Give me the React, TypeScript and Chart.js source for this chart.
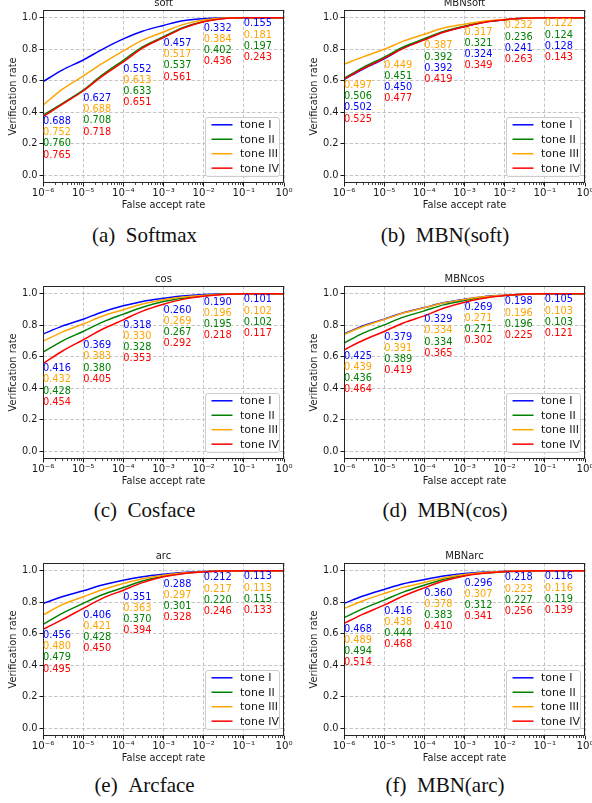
import React, { useEffect, useRef } from "react";
import { Chart, registerables } from "chart.js";

Chart.register(...registerables);

// ---------- data ----------
const FAR = [1e-6, 3e-6, 1e-5, 3e-5, 1e-4, 3e-4, 1e-3, 3e-3, 1e-2, 3e-2, 1e-1, 1];
const X_TICKS = [1e-6, 1e-5, 1e-4, 1e-3, 1e-2, 1e-1, 1];
const Y_TICKS = [0, 0.2, 0.4, 0.6, 0.8, 1.0];
const LABEL_FAR = [1e-6, 1e-5, 1e-4, 1e-3, 1e-2, 1e-1];
const TONES = ["tone I", "tone II", "tone III", "tone IV"];

// (a) soft
const softI = [0.594, 0.668, 0.732, 0.8, 0.866, 0.915, 0.952, 0.982, 0.995, 0.999, 1.0, 1.0];
const softII = [0.38, 0.455, 0.54, 0.637, 0.73, 0.815, 0.88, 0.937, 0.977, 0.996, 1.0, 1.0];
const softIII = [0.445, 0.545, 0.63, 0.71, 0.79, 0.858, 0.91, 0.957, 0.987, 0.998, 1.0, 1.0];
const softIV = [0.372, 0.45, 0.535, 0.63, 0.72, 0.808, 0.874, 0.933, 0.975, 0.995, 1.0, 1.0];
const softNumI = [0.688, 0.627, 0.552, 0.457, 0.332, 0.155];
const softNumII = [0.76, 0.708, 0.633, 0.537, 0.402, 0.197];
const softNumIII = [0.752, 0.688, 0.613, 0.517, 0.384, 0.181];
const softNumIV = [0.765, 0.718, 0.651, 0.561, 0.436, 0.243];
const softOrder = [0, 2, 1, 3];
const softLabelY = [0.34, 0.486, 0.675, 0.836, 0.934, 0.962];

// (b) MBNsoft
const mbnsoftI = [0.608, 0.675, 0.74, 0.808, 0.862, 0.91, 0.945, 0.972, 0.988, 0.997, 1.0, 1.0];
const mbnsoftII = [0.615, 0.685, 0.75, 0.815, 0.867, 0.913, 0.947, 0.973, 0.988, 0.997, 1.0, 1.0];
const mbnsoftIII = [0.705, 0.752, 0.8, 0.852, 0.896, 0.935, 0.96, 0.978, 0.99, 0.998, 1.0, 1.0];
const mbnsoftIV = [0.61, 0.677, 0.742, 0.806, 0.86, 0.908, 0.944, 0.971, 0.988, 0.997, 1.0, 1.0];
const mbnsoftNumI = [0.502, 0.45, 0.392, 0.324, 0.241, 0.128];
const mbnsoftNumII = [0.506, 0.451, 0.392, 0.321, 0.236, 0.124];
const mbnsoftNumIII = [0.497, 0.449, 0.387, 0.317, 0.232, 0.122];
const mbnsoftNumIV = [0.525, 0.477, 0.419, 0.349, 0.263, 0.143];
const mbnsoftOrder = [2, 1, 0, 3];
const mbnsoftLabelY = [0.569, 0.699, 0.822, 0.909, 0.949, 0.962];

// (c) cos
const cosI = [0.744, 0.795, 0.839, 0.885, 0.924, 0.952, 0.972, 0.987, 0.996, 0.999, 1.0, 1.0];
const cosII = [0.63, 0.7, 0.761, 0.82, 0.871, 0.915, 0.951, 0.972, 0.987, 0.997, 1.0, 1.0];
const cosIII = [0.698, 0.757, 0.808, 0.858, 0.899, 0.935, 0.962, 0.98, 0.991, 0.998, 1.0, 1.0];
const cosIV = [0.556, 0.635, 0.708, 0.775, 0.835, 0.89, 0.934, 0.965, 0.985, 0.996, 1.0, 1.0];
const cosNumI = [0.416, 0.369, 0.318, 0.26, 0.19, 0.101];
const cosNumII = [0.428, 0.38, 0.328, 0.267, 0.195, 0.102];
const cosNumIII = [0.432, 0.383, 0.33, 0.269, 0.196, 0.102];
const cosNumIV = [0.454, 0.405, 0.353, 0.292, 0.218, 0.117];
const cosOrder = [0, 2, 1, 3];
const cosLabelY = [0.524, 0.67, 0.799, 0.894, 0.945, 0.962];

// (d) MBNcos
const mbncosI = [0.745, 0.797, 0.839, 0.88, 0.913, 0.943, 0.966, 0.982, 0.991, 0.998, 1.0, 1.0];
const mbncosII = [0.687, 0.75, 0.803, 0.852, 0.892, 0.93, 0.958, 0.978, 0.99, 0.998, 1.0, 1.0];
const mbncosIII = [0.742, 0.792, 0.837, 0.878, 0.912, 0.942, 0.965, 0.981, 0.991, 0.998, 1.0, 1.0];
const mbncosIV = [0.643, 0.705, 0.761, 0.815, 0.86, 0.908, 0.947, 0.972, 0.989, 0.998, 1.0, 1.0];
const mbncosNumI = [0.425, 0.379, 0.329, 0.269, 0.198, 0.105];
const mbncosNumII = [0.436, 0.389, 0.334, 0.271, 0.196, 0.103];
const mbncosNumIII = [0.439, 0.391, 0.334, 0.271, 0.196, 0.103];
const mbncosNumIV = [0.464, 0.419, 0.365, 0.302, 0.225, 0.121];
const mbncosOrder = [0, 2, 1, 3];
const mbncosLabelY = [0.603, 0.725, 0.835, 0.913, 0.949, 0.962];

// (e) arc
const arcI = [0.793, 0.835, 0.873, 0.91, 0.941, 0.963, 0.979, 0.99, 0.996, 0.999, 1.0, 1.0];
const arcII = [0.66, 0.73, 0.793, 0.848, 0.894, 0.935, 0.966, 0.983, 0.993, 0.999, 1.0, 1.0];
const arcIII = [0.719, 0.785, 0.835, 0.88, 0.92, 0.95, 0.972, 0.986, 0.994, 0.999, 1.0, 1.0];
const arcIV = [0.628, 0.69, 0.761, 0.825, 0.877, 0.925, 0.962, 0.982, 0.993, 0.999, 1.0, 1.0];
const arcNumI = [0.456, 0.406, 0.351, 0.288, 0.212, 0.113];
const arcNumII = [0.479, 0.428, 0.37, 0.301, 0.22, 0.115];
const arcNumIII = [0.48, 0.421, 0.363, 0.297, 0.217, 0.113];
const arcNumIV = [0.495, 0.45, 0.394, 0.328, 0.246, 0.133];
const arcOrder = [0, 2, 1, 3];
const arcLabelY = [0.588, 0.717, 0.833, 0.915, 0.955, 0.962];

// (f) MBNarc
const mbnarcI = [0.793, 0.84, 0.882, 0.918, 0.945, 0.967, 0.983, 0.992, 0.997, 1.0, 1.0, 1.0];
const mbnarcII = [0.702, 0.76, 0.814, 0.865, 0.909, 0.945, 0.972, 0.986, 0.995, 0.999, 1.0, 1.0];
const mbnarcIII = [0.761, 0.81, 0.856, 0.895, 0.926, 0.955, 0.977, 0.989, 0.996, 1.0, 1.0, 1.0];
const mbnarcIV = [0.666, 0.725, 0.782, 0.84, 0.892, 0.935, 0.968, 0.985, 0.995, 0.999, 1.0, 1.0];
const mbnarcNumI = [0.468, 0.416, 0.36, 0.296, 0.218, 0.116];
const mbnarcNumII = [0.494, 0.444, 0.383, 0.312, 0.227, 0.119];
const mbnarcNumIII = [0.489, 0.438, 0.378, 0.307, 0.223, 0.116];
const mbnarcNumIV = [0.514, 0.468, 0.41, 0.341, 0.256, 0.139];
const mbnarcOrder = [0, 2, 1, 3];
const mbnarcLabelY = [0.628, 0.744, 0.856, 0.923, 0.955, 0.962];

// ---------- styles ----------
const COLORS = ["#0000ff", "#008000", "#ffa500", "#ff0000"];
const FONT = "'DejaVu Sans', sans-serif";
const TXT = "#1a1a1a";
const LABEL_STEP = 0.0707;
const CW = 295;
const CH = 219;

type PanelDef = {
  title: string;
  curves: number[][];
  nums: number[][];
  order: number[];
  labelY: number[];
  left: number;
  top: number;
  caption: string;
  capX: number;
  capTop: number;
};

const PANELS: PanelDef[] = [
  { title: "soft", curves: [softI, softII, softIII, softIV], nums: [softNumI, softNumII, softNumIII, softNumIV], order: softOrder, labelY: softLabelY, left: 1, top: -6, caption: "(a)\u2002Softmax", capX: 144.5, capTop: 225 },
  { title: "MBNsoft", curves: [mbnsoftI, mbnsoftII, mbnsoftIII, mbnsoftIV], nums: [mbnsoftNumI, mbnsoftNumII, mbnsoftNumIII, mbnsoftNumIV], order: mbnsoftOrder, labelY: mbnsoftLabelY, left: 302, top: -6, caption: "(b)\u2002MBN(soft)", capX: 445, capTop: 225 },
  { title: "cos", curves: [cosI, cosII, cosIII, cosIV], nums: [cosNumI, cosNumII, cosNumIII, cosNumIV], order: cosOrder, labelY: cosLabelY, left: 1, top: 270, caption: "(c)\u2002Cosface", capX: 144.5, capTop: 500 },
  { title: "MBNcos", curves: [mbncosI, mbncosII, mbncosIII, mbncosIV], nums: [mbncosNumI, mbncosNumII, mbncosNumIII, mbncosNumIV], order: mbncosOrder, labelY: mbncosLabelY, left: 302, top: 270, caption: "(d)\u2002MBN(cos)", capX: 445, capTop: 500 },
  { title: "arc", curves: [arcI, arcII, arcIII, arcIV], nums: [arcNumI, arcNumII, arcNumIII, arcNumIV], order: arcOrder, labelY: arcLabelY, left: 1, top: 547, caption: "(e)\u2002Arcface", capX: 144.5, capTop: 775 },
  { title: "MBNarc", curves: [mbnarcI, mbnarcII, mbnarcIII, mbnarcIV], nums: [mbnarcNumI, mbnarcNumII, mbnarcNumIII, mbnarcNumIV], order: mbnarcOrder, labelY: mbnarcLabelY, left: 302, top: 547, caption: "(f)\u2002MBN(arc)", capX: 445, capTop: 775 },
];

const SUP: Record<string, string> = {
  "-": "\u207B", "0": "\u2070", "1": "\u00B9", "2": "\u00B2", "3": "\u00B3",
  "4": "\u2074", "5": "\u2075", "6": "\u2076", "7": "\u2077", "8": "\u2078", "9": "\u2079",
};
const powLabel = (v: number) =>
  "10" + String(Math.round(Math.log10(v))).split("").map((c) => SUP[c] || c).join("");

function makeDecor(p: PanelDef) {
  return {
    id: "decor",
    afterDraw(chart: any) {
      const { ctx, chartArea: a, scales } = chart;
      const xs = scales.x;
      const ys = scales.y;
      ctx.save();
      // minor ticks
      ctx.strokeStyle = TXT;
      ctx.lineWidth = 0.8;
      ctx.beginPath();
      for (let k = -6; k < 0; k++) {
        for (let m = 2; m <= 9; m++) {
          const px = Math.round(xs.getPixelForValue(m * Math.pow(10, k))) + 0.5;
          ctx.moveTo(px, a.bottom);
          ctx.lineTo(px, a.bottom + 2);
        }
      }
      ctx.stroke();
      // frame
      ctx.strokeStyle = "#262626";
      ctx.lineWidth = 1;
      ctx.strokeRect(a.left + 0.5, a.top + 0.5, a.right - a.left - 1, a.bottom - a.top - 1);
      // value annotations
      ctx.font = `9.8px ${FONT}`;
      ctx.textAlign = "left";
      ctx.textBaseline = "middle";
      LABEL_FAR.forEach((fx, j) => {
        const px = xs.getPixelForValue(fx);
        p.order.forEach((t, r) => {
          const py = ys.getPixelForValue(p.labelY[j] - r * LABEL_STEP);
          ctx.fillStyle = COLORS[t];
          ctx.fillText(p.nums[t][j].toFixed(3), px, py);
        });
      });
      // legend
      const bw = 74;
      const bh = 59;
      const bx = a.right - 5 - bw;
      const by = a.bottom - 7 - bh;
      ctx.beginPath();
      if (ctx.roundRect) ctx.roundRect(bx + 0.5, by + 0.5, bw, bh, 2.5);
      else ctx.rect(bx + 0.5, by + 0.5, bw, bh);
      ctx.fillStyle = "rgba(255,255,255,0.8)";
      ctx.fill();
      ctx.strokeStyle = "#cccccc";
      ctx.lineWidth = 1;
      ctx.stroke();
      ctx.font = `11px ${FONT}`;
      TONES.forEach((name, i) => {
        const cy = by + 7.8 + i * 14.45;
        ctx.strokeStyle = COLORS[i];
        ctx.lineWidth = 1.5;
        ctx.beginPath();
        ctx.moveTo(bx + 6.5, cy);
        ctx.lineTo(bx + 27.5, cy);
        ctx.stroke();
        ctx.fillStyle = TXT;
        ctx.fillText(name, bx + 35, cy + 0.5);
      });
      ctx.restore();
    },
  };
}

function Panel({ p }: { p: PanelDef }) {
  const ref = useRef<HTMLCanvasElement>(null);
  useEffect(() => {
    const font = { family: FONT, size: 9.8 };
    const chart = new Chart(ref.current as HTMLCanvasElement, {
      type: "line",
      data: {
        datasets: p.curves.map((c, i) => ({
          label: TONES[i],
          data: FAR.map((x, j) => ({ x, y: c[j] })),
          borderColor: COLORS[i],
          backgroundColor: COLORS[i],
          borderWidth: 1.5,
          pointRadius: 0,
          fill: false,
          cubicInterpolationMode: "monotone",
          order: 3 - i,
        })),
      },
      options: {
        responsive: false,
        animation: false,
        devicePixelRatio: 1,
        events: [],
        layout: { padding: { left: 0, right: 12, top: 0, bottom: 0 } },
        plugins: {
          legend: { display: false },
          tooltip: { enabled: false },
          title: {
            display: true,
            text: p.title,
            fullSize: false,
            color: TXT,
            font: { family: FONT, size: 10, weight: "normal" },
            padding: { top: 3, bottom: 1 },
          },
        },
        scales: {
          x: {
            type: "logarithmic",
            min: 1e-6,
            max: 1,
            afterBuildTicks: (s: any) => {
              s.ticks = X_TICKS.map((v) => ({ value: v }));
            },
            afterFit: (s: any) => {
              s.height = 30;
            },
            ticks: {
              autoSkip: false,
              maxRotation: 0,
              minRotation: 0,
              padding: 1,
              color: TXT,
              font: { family: FONT, size: 10.2 },
              callback: (v: any) => powLabel(Number(v)),
            },
            title: {
              display: true,
              text: "False accept rate",
              color: TXT,
              font,
              padding: { top: 0, bottom: 1.3 },
            },
            grid: {
              color: "#b8b8b8",
              lineWidth: 0.8,
              tickColor: TXT,
              tickLength: 3.5,
              tickWidth: 1,
              tickBorderDash: [],
            },
            border: { display: false, dash: [3.5, 2] },
          },
          y: {
            type: "linear",
            min: -0.05,
            max: 1.05,
            afterBuildTicks: (s: any) => {
              s.ticks = Y_TICKS.map((v) => ({ value: v }));
            },
            afterFit: (s: any) => {
              s.width = 42;
            },
            ticks: {
              padding: 2,
              color: TXT,
              font,
              callback: (v: any) => Number(v).toFixed(1),
            },
            title: {
              display: true,
              text: "Verification rate",
              color: TXT,
              font,
              padding: { top: 6.4, bottom: 0 },
            },
            grid: {
              color: "#b8b8b8",
              lineWidth: 0.8,
              tickColor: TXT,
              tickLength: 3.5,
              tickWidth: 1,
              tickBorderDash: [],
            },
            border: { display: false, dash: [3.5, 2] },
          },
        },
      } as any,
      plugins: [makeDecor(p)],
    });
    return () => chart.destroy();
  }, [p]);
  return (
    <canvas
      ref={ref}
      width={CW}
      height={CH}
      style={{ position: "absolute", left: p.left, top: p.top, width: CW, height: CH }}
    />
  );
}

export default function App() {
  return (
    <div
      style={{
        position: "absolute",
        left: 0,
        top: 0,
        width: 592,
        height: 803,
        overflow: "hidden",
        background: "#ffffff",
      }}
    >
      {PANELS.map((p) => (
        <React.Fragment key={p.title}>
          <Panel p={p} />
          <div
            style={{
              position: "absolute",
              left: p.capX - 110,
              width: 220,
              top: p.capTop,
              textAlign: "center",
              fontFamily: "'Liberation Serif', serif",
              fontSize: 21,
              lineHeight: "21px",
              color: "#111",
              whiteSpace: "pre",
            }}
          >
            {p.caption}
          </div>
        </React.Fragment>
      ))}
    </div>
  );
}
